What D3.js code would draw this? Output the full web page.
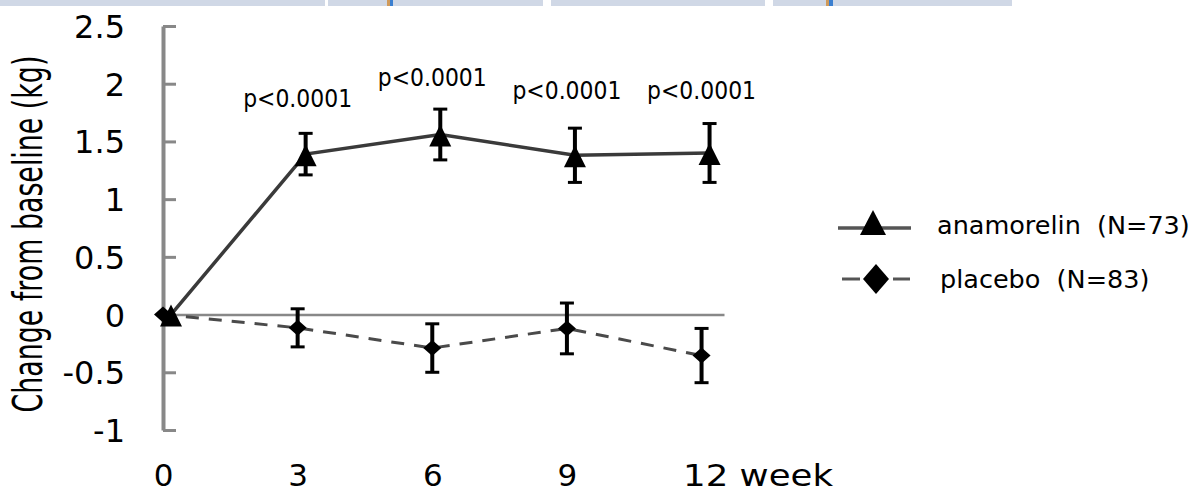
<!DOCTYPE html>
<html>
<head>
<meta charset="utf-8">
<script src="https://cdn.jsdelivr.net/npm/d3@7/dist/d3.min.js"></script>
<style>
  html, body { margin: 0; padding: 0; background: #fff; }
  svg { display: block; font-family: "DejaVu Sans", sans-serif; }
  .leg { white-space: pre; }
</style>
</head>
<body>
<svg id="chart" width="1196" height="495"></svg>
<script>
// data
const weeks = [0, 3, 6, 9, 12];
const anamorelinMean = [0, 1.39, 1.56, 1.38, 1.40];
const anamorelinErr = [0, 0.18, 0.22, 0.235, 0.255];
const placeboMean = [0, -0.115, -0.29, -0.12, -0.355];
const placeboErr = [0, 0.165, 0.21, 0.22, 0.235];

const pWeeks = [3, 6, 9, 12];
const pTexts = ['p<0.0001', 'p<0.0001', 'p<0.0001', 'p<0.0001'];
const pLevels = [1.80, 1.98, 1.87, 1.87];

const yTicks = [-1, -0.5, 0, 0.5, 1, 1.5, 2, 2.5];
const xTickLabels = ['0', '3', '6', '9', '12 week'];
const seriesNames = ['anamorelin  (N=73)', 'placebo  (N=83)'];
const yTitle = 'Change from baseline (kg)';

const svg = d3.select('#chart');
const x = d3.scaleLinear().domain([0, 12.5]).range([163, 724]);
const y = d3.scaleLinear().domain([-1, 2.5]).range([430, 26]);
const dodge = 8; // anamorelin points sit a little right of the placebo ones

// strip left over from the page above the figure
const strip = svg.append('g');
[[0, 325], [328, 543], [551, 765], [773, 1012]].forEach(([a, b]) => {
  strip.append('rect').attr('x', a).attr('y', 0).attr('width', b - a).attr('height', 6).attr('fill', '#d0d8e6');
});
strip.append('rect').attr('x', 387).attr('y', 0).attr('width', 3).attr('height', 6).attr('fill', '#d09a5a');
strip.append('rect').attr('x', 390).attr('y', 0).attr('width', 3).attr('height', 6).attr('fill', '#3a7fd0');
strip.append('rect').attr('x', 826).attr('y', 0).attr('width', 3).attr('height', 6).attr('fill', '#d09a5a');
strip.append('rect').attr('x', 829).attr('y', 0).attr('width', 4).attr('height', 6).attr('fill', '#3a7fd0');

// y axis
const yAxis = svg.append('g')
  .attr('transform', `translate(${x(0)},0)`)
  .call(d3.axisLeft(y).tickValues(yTicks).tickSize(-13).tickSizeOuter(0).tickPadding(38)
    .tickFormat((d) => String(d)));
yAxis.select('.domain').attr('stroke', '#888').attr('stroke-width', 4);
yAxis.selectAll('.tick line').attr('stroke', '#888').attr('stroke-width', 3);
yAxis.selectAll('.tick text')
  .attr('font-family', 'DejaVu Sans').attr('font-size', 32).attr('fill', '#000').attr('dy', '0.36em');

// x axis line at zero
const xAxis = svg.append('g')
  .attr('transform', `translate(0,${y(0)})`)
  .call(d3.axisBottom(x).tickValues([]).tickSizeOuter(0));
xAxis.select('.domain').attr('stroke', '#888').attr('stroke-width', 2.5);

// x tick labels along the bottom
const xLab = svg.append('g')
  .attr('transform', 'translate(0,464)')
  .call(d3.axisBottom(x).tickValues(weeks).tickSize(0).tickPadding(0)
    .tickFormat((d, i) => xTickLabels[i]));
xLab.select('.domain').remove();
xLab.selectAll('.tick text')
  .attr('font-family', 'DejaVu Sans').attr('font-size', 31).attr('fill', '#000');
xLab.selectAll('.tick text').filter((d, i) => i === weeks.length - 1)
  .attr('text-anchor', 'start').attr('x', -19)
  .attr('textLength', 150).attr('lengthAdjust', 'spacingAndGlyphs')
  .style('white-space', 'pre');

// y title: tall glyphs squeezed along the text direction
const yt = svg.append('text')
  .attr('text-anchor', 'middle')
  .attr('font-size', 40)
  .text(yTitle);
const natural = yt.node().getComputedTextLength();
yt.attr('transform', `translate(42,234) rotate(-90) scale(${357 / natural},1)`);

const anaPts = weeks.map((w, i) => ({ w, m: anamorelinMean[i], e: anamorelinErr[i], px: x(w) + dodge }));
const plaPts = weeks.map((w, i) => ({ w, m: placeboMean[i], e: placeboErr[i], px: x(w) }));

const line = d3.line().x((d) => d.px).y((d) => y(d.m));

svg.append('path').datum(plaPts)
  .attr('d', line).attr('fill', 'none')
  .attr('stroke', '#4a4a4a').attr('stroke-width', 3).attr('stroke-dasharray', '13,10');

svg.append('path').datum(anaPts)
  .attr('d', line).attr('fill', 'none')
  .attr('stroke', '#3a3a3a').attr('stroke-width', 3.5);

function errorBars(pts) {
  const g = svg.append('g').attr('stroke', '#000');
  const withErr = pts.filter((d) => d.e > 0);
  g.selectAll('line.v').data(withErr).join('line')
    .attr('x1', (d) => d.px).attr('x2', (d) => d.px)
    .attr('y1', (d) => y(d.m + d.e)).attr('y2', (d) => y(d.m - d.e))
    .attr('stroke-width', 4);
  ['top', 'bot'].forEach((k) => {
    g.selectAll('line.' + k).data(withErr).join('line')
      .attr('x1', (d) => d.px - 7).attr('x2', (d) => d.px + 7)
      .attr('y1', (d) => y(k === 'top' ? d.m + d.e : d.m - d.e))
      .attr('y2', (d) => y(k === 'top' ? d.m + d.e : d.m - d.e))
      .attr('stroke-width', 3);
  });
}
errorBars(plaPts);
errorBars(anaPts);

const tri = (s) => `M0,${-10 * s}L${11 * s},${12 * s}L${-11 * s},${12 * s}Z`;
const dia = (w, h) => `M0,${-h}L${w},0L0,${h}L${-w},0Z`;

svg.append('g').selectAll('path').data(plaPts).join('path')
  .attr('transform', (d) => `translate(${d.px},${y(d.m)})`)
  .attr('d', dia(9, 8)).attr('fill', '#000');

svg.append('g').selectAll('path').data(anaPts).join('path')
  .attr('transform', (d) => `translate(${d.px},${y(d.m)})`)
  .attr('d', tri(1)).attr('fill', '#000');

// p-values
svg.append('g').selectAll('text').data(pWeeks).join('text')
  .attr('x', (d) => x(d))
  .attr('y', (d, i) => y(pLevels[i]))
  .attr('text-anchor', 'middle')
  .attr('font-size', 24)
  .attr('textLength', 109).attr('lengthAdjust', 'spacingAndGlyphs')
  .text((d, i) => pTexts[i]);

// legend
const leg = svg.append('g');
leg.append('line').attr('x1', 838).attr('x2', 911).attr('y1', 228).attr('y2', 228)
  .attr('stroke', '#555').attr('stroke-width', 3.5);
leg.append('path').attr('transform', 'translate(873,222)')
  .attr('d', `M0,-12L13,13L-13,13Z`).attr('fill', '#000');
leg.append('text').attr('class', 'leg').attr('x', 937).attr('y', 234)
  .attr('font-size', 25.5).text(seriesNames[0]);

leg.append('line').attr('x1', 842).attr('x2', 860).attr('y1', 279).attr('y2', 279)
  .attr('stroke', '#555').attr('stroke-width', 3);
leg.append('line').attr('x1', 893).attr('x2', 910).attr('y1', 279).attr('y2', 279)
  .attr('stroke', '#555').attr('stroke-width', 3);
leg.append('path').attr('transform', 'translate(876,279)')
  .attr('d', dia(13, 15)).attr('fill', '#000');
leg.append('text').attr('class', 'leg').attr('x', 940).attr('y', 288)
  .attr('font-size', 25.5).text(seriesNames[1]);
</script>
</body>
</html>
